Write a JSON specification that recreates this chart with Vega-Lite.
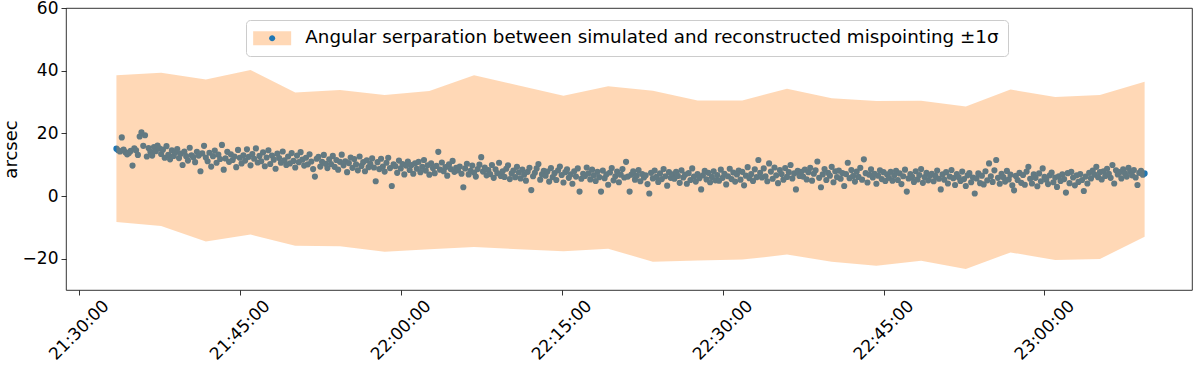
{
"$schema": "https://vega.github.io/schema/vega-lite/v6.json",
"width": 1126, "height": 282,
"autosize": {"type": "none"},
"padding": {"left": 66, "top": 8, "right": 8, "bottom": 77},
"background": "white",
"config": {
  "view": {"stroke": "black", "strokeWidth": 0.8},
  "font": "DejaVu Sans",
  "axis": {"grid": false, "domain": false, "tickColor": "black", "tickWidth": 0.8, "tickSize": 5, "labelColor": "black", "labelFont": "DejaVu Sans", "labelFontSize": 17, "titleFont": "DejaVu Sans", "titleFontSize": 18, "titleFontWeight": "normal", "titleColor": "black"}
},
"datasets": {
"pts": [
{"t":77610000,"v":15.1},{"t":77620000,"v":14.6},{"t":77630000,"v":14.2},{"t":77640000,"v":18.7},{"t":77650000,"v":14.8},{"t":77660000,"v":14.0},{"t":77670000,"v":13.3},{"t":77680000,"v":13.7},{"t":77690000,"v":14.4},{"t":77700000,"v":9.7},{"t":77710000,"v":15.2},{"t":77720000,"v":14.6},{"t":77730000,"v":13.1},{"t":77740000,"v":19.0},{"t":77750000,"v":20.3},{"t":77760000,"v":16.0},{"t":77770000,"v":19.4},{"t":77780000,"v":12.6},{"t":77790000,"v":15.3},{"t":77800000,"v":14.1},{"t":77810000,"v":12.9},{"t":77820000,"v":15.6},{"t":77830000,"v":14.3},{"t":77840000,"v":16.1},
{"t":77850000,"v":15.2},{"t":77860000,"v":13.4},{"t":77870000,"v":14.8},{"t":77880000,"v":12.2},{"t":77890000,"v":15.9},{"t":77900000,"v":13.1},{"t":77910000,"v":11.7},{"t":77920000,"v":14.6},{"t":77930000,"v":12.8},{"t":77940000,"v":13.9},{"t":77950000,"v":15.0},{"t":77960000,"v":12.1},{"t":77970000,"v":13.5},{"t":77980000,"v":9.9},{"t":77990000,"v":14.2},{"t":78000000,"v":12.7},{"t":78010000,"v":11.3},{"t":78020000,"v":15.4},{"t":78030000,"v":13.0},{"t":78040000,"v":12.4},{"t":78050000,"v":10.8},{"t":78060000,"v":14.1},{"t":78070000,"v":12.9},{"t":78080000,"v":7.9},
{"t":78090000,"v":13.6},{"t":78100000,"v":16.0},{"t":78110000,"v":12.3},{"t":78120000,"v":11.1},{"t":78130000,"v":13.8},{"t":78140000,"v":9.4},{"t":78150000,"v":12.7},{"t":78160000,"v":14.5},{"t":78170000,"v":10.6},{"t":78180000,"v":13.2},{"t":78190000,"v":11.8},{"t":78200000,"v":16.3},{"t":78210000,"v":8.4},{"t":78220000,"v":12.0},{"t":78230000,"v":14.1},{"t":78240000,"v":10.9},{"t":78250000,"v":13.3},{"t":78260000,"v":11.5},{"t":78270000,"v":12.6},{"t":78280000,"v":9.2},{"t":78290000,"v":14.7},{"t":78300000,"v":12.2},{"t":78310000,"v":10.4},{"t":78320000,"v":13.0},
{"t":78330000,"v":11.3},{"t":78340000,"v":14.9},{"t":78350000,"v":12.5},{"t":78360000,"v":9.8},{"t":78370000,"v":13.4},{"t":78380000,"v":11.9},{"t":78390000,"v":15.2},{"t":78400000,"v":10.7},{"t":78410000,"v":12.8},{"t":78420000,"v":11.1},{"t":78430000,"v":13.9},{"t":78440000,"v":9.5},{"t":78450000,"v":12.3},{"t":78460000,"v":14.6},{"t":78470000,"v":10.2},{"t":78480000,"v":12.9},{"t":78490000,"v":11.6},{"t":78500000,"v":8.7},{"t":78510000,"v":13.5},{"t":78520000,"v":12.1},{"t":78530000,"v":10.6},{"t":78540000,"v":14.2},{"t":78550000,"v":11.4},{"t":78560000,"v":9.9},
{"t":78570000,"v":12.6},{"t":78580000,"v":10.4},{"t":78590000,"v":13.7},{"t":78600000,"v":11.2},{"t":78610000,"v":9.1},{"t":78620000,"v":12.9},{"t":78630000,"v":10.8},{"t":78640000,"v":14.0},{"t":78650000,"v":11.6},{"t":78660000,"v":9.7},{"t":78670000,"v":12.2},{"t":78680000,"v":10.1},{"t":78690000,"v":13.3},{"t":78700000,"v":11.0},{"t":78710000,"v":8.6},{"t":78720000,"v":6.2},{"t":78730000,"v":11.9},{"t":78740000,"v":12.5},{"t":78750000,"v":9.4},{"t":78760000,"v":10.9},{"t":78770000,"v":13.1},{"t":78780000,"v":10.3},{"t":78790000,"v":8.9},{"t":78800000,"v":11.7},
{"t":78810000,"v":10.2},{"t":78820000,"v":12.8},{"t":78830000,"v":9.3},{"t":78840000,"v":11.5},{"t":78850000,"v":8.4},{"t":78860000,"v":10.9},{"t":78870000,"v":13.2},{"t":78880000,"v":9.8},{"t":78890000,"v":11.1},{"t":78900000,"v":7.6},{"t":78910000,"v":10.5},{"t":78920000,"v":12.3},{"t":78930000,"v":9.0},{"t":78940000,"v":11.8},{"t":78950000,"v":10.1},{"t":78960000,"v":8.2},{"t":78970000,"v":12.6},{"t":78980000,"v":9.6},{"t":78990000,"v":10.8},{"t":79000000,"v":7.9},{"t":79010000,"v":11.4},{"t":79020000,"v":9.2},{"t":79030000,"v":10.3},{"t":79040000,"v":12.0},
{"t":79050000,"v":9.1},{"t":79060000,"v":4.7},{"t":79070000,"v":10.8},{"t":79080000,"v":8.6},{"t":79090000,"v":11.9},{"t":79100000,"v":9.4},{"t":79110000,"v":7.8},{"t":79120000,"v":10.6},{"t":79130000,"v":12.2},{"t":79140000,"v":8.9},{"t":79150000,"v":3.2},{"t":79160000,"v":10.1},{"t":79170000,"v":9.5},{"t":79180000,"v":7.4},{"t":79190000,"v":11.3},{"t":79200000,"v":8.8},{"t":79210000,"v":10.2},{"t":79220000,"v":6.9},{"t":79230000,"v":9.7},{"t":79240000,"v":11.0},{"t":79250000,"v":8.3},{"t":79260000,"v":9.9},{"t":79270000,"v":7.1},{"t":79280000,"v":10.4},
{"t":79290000,"v":8.7},{"t":79300000,"v":10.9},{"t":79310000,"v":7.6},{"t":79320000,"v":9.3},{"t":79330000,"v":11.5},{"t":79340000,"v":8.1},{"t":79350000,"v":9.8},{"t":79360000,"v":6.8},{"t":79370000,"v":10.4},{"t":79380000,"v":8.9},{"t":79390000,"v":7.3},{"t":79400000,"v":9.6},{"t":79410000,"v":14.1},{"t":79420000,"v":8.4},{"t":79430000,"v":10.7},{"t":79440000,"v":7.9},{"t":79450000,"v":9.2},{"t":79460000,"v":6.5},{"t":79470000,"v":10.1},{"t":79480000,"v":8.6},{"t":79490000,"v":11.2},{"t":79500000,"v":7.7},{"t":79510000,"v":9.0},{"t":79520000,"v":8.2},
{"t":79530000,"v":9.4},{"t":79540000,"v":7.1},{"t":79550000,"v":2.8},{"t":79560000,"v":8.8},{"t":79570000,"v":10.3},{"t":79580000,"v":6.9},{"t":79590000,"v":8.0},{"t":79600000,"v":9.7},{"t":79610000,"v":7.5},{"t":79620000,"v":6.2},{"t":79630000,"v":8.6},{"t":79640000,"v":10.0},{"t":79650000,"v":12.4},{"t":79660000,"v":7.8},{"t":79670000,"v":9.1},{"t":79680000,"v":6.6},{"t":79690000,"v":8.3},{"t":79700000,"v":7.0},{"t":79710000,"v":9.9},{"t":79720000,"v":5.8},{"t":79730000,"v":8.5},{"t":79740000,"v":7.3},{"t":79750000,"v":10.6},{"t":79760000,"v":6.4},
{"t":79770000,"v":7.9},{"t":79780000,"v":6.1},{"t":79790000,"v":8.7},{"t":79800000,"v":9.8},{"t":79810000,"v":5.4},{"t":79820000,"v":7.2},{"t":79830000,"v":8.1},{"t":79840000,"v":6.0},{"t":79850000,"v":9.3},{"t":79860000,"v":7.5},{"t":79870000,"v":5.6},{"t":79880000,"v":8.4},{"t":79890000,"v":6.8},{"t":79900000,"v":4.9},{"t":79910000,"v":7.7},{"t":79920000,"v":9.0},{"t":79930000,"v":1.9},{"t":79940000,"v":6.3},{"t":79950000,"v":7.4},{"t":79960000,"v":8.8},{"t":79970000,"v":10.2},{"t":79980000,"v":5.2},{"t":79990000,"v":6.9},{"t":80000000,"v":8.0},
{"t":80010000,"v":6.5},{"t":80020000,"v":7.8},{"t":80030000,"v":4.6},{"t":80040000,"v":8.9},{"t":80050000,"v":6.0},{"t":80060000,"v":7.3},{"t":80070000,"v":5.1},{"t":80080000,"v":8.2},{"t":80090000,"v":9.4},{"t":80100000,"v":6.7},{"t":80110000,"v":4.3},{"t":80120000,"v":7.6},{"t":80130000,"v":8.5},{"t":80140000,"v":5.8},{"t":80150000,"v":6.9},{"t":80160000,"v":3.9},{"t":80170000,"v":7.9},{"t":80180000,"v":6.2},{"t":80190000,"v":8.8},{"t":80200000,"v":1.4},{"t":80210000,"v":5.5},{"t":80220000,"v":7.1},{"t":80230000,"v":6.4},{"t":80240000,"v":9.1},
{"t":80250000,"v":7.2},{"t":80260000,"v":5.3},{"t":80270000,"v":8.4},{"t":80280000,"v":6.6},{"t":80290000,"v":4.8},{"t":80300000,"v":7.7},{"t":80310000,"v":6.0},{"t":80320000,"v":1.4},{"t":80330000,"v":8.1},{"t":80340000,"v":5.7},{"t":80350000,"v":6.9},{"t":80360000,"v":3.6},{"t":80370000,"v":7.5},{"t":80380000,"v":8.9},{"t":80390000,"v":5.0},{"t":80400000,"v":6.3},{"t":80410000,"v":7.8},{"t":80420000,"v":4.4},{"t":80430000,"v":6.8},{"t":80440000,"v":8.6},{"t":80450000,"v":5.9},{"t":80460000,"v":10.9},{"t":80470000,"v":6.2},{"t":80480000,"v":1.4},
{"t":80490000,"v":6.8},{"t":80500000,"v":7.9},{"t":80510000,"v":5.2},{"t":80520000,"v":6.5},{"t":80530000,"v":8.3},{"t":80540000,"v":4.7},{"t":80550000,"v":7.0},{"t":80560000,"v":5.9},{"t":80570000,"v":6.6},{"t":80580000,"v":3.8},{"t":80590000,"v":0.8},{"t":80600000,"v":7.4},{"t":80610000,"v":5.6},{"t":80620000,"v":8.1},{"t":80630000,"v":6.1},{"t":80640000,"v":4.5},{"t":80650000,"v":7.2},{"t":80660000,"v":5.4},{"t":80670000,"v":8.6},{"t":80680000,"v":6.3},{"t":80690000,"v":3.3},{"t":80700000,"v":7.6},{"t":80710000,"v":5.8},{"t":80720000,"v":6.9},
{"t":80730000,"v":5.5},{"t":80740000,"v":7.7},{"t":80750000,"v":6.4},{"t":80760000,"v":4.2},{"t":80770000,"v":8.2},{"t":80780000,"v":5.9},{"t":80790000,"v":6.8},{"t":80800000,"v":3.9},{"t":80810000,"v":7.3},{"t":80820000,"v":5.1},{"t":80830000,"v":8.8},{"t":80840000,"v":6.2},{"t":80850000,"v":4.6},{"t":80860000,"v":7.0},{"t":80870000,"v":5.7},{"t":80880000,"v":2.1},{"t":80890000,"v":6.6},{"t":80900000,"v":8.0},{"t":80910000,"v":5.3},{"t":80920000,"v":7.4},{"t":80930000,"v":4.4},{"t":80940000,"v":6.1},{"t":80950000,"v":7.9},{"t":80960000,"v":5.0},
{"t":80970000,"v":6.7},{"t":80980000,"v":4.9},{"t":80990000,"v":8.4},{"t":81000000,"v":5.8},{"t":81010000,"v":7.1},{"t":81020000,"v":3.7},{"t":81030000,"v":6.3},{"t":81040000,"v":8.7},{"t":81050000,"v":5.4},{"t":81060000,"v":7.5},{"t":81070000,"v":4.6},{"t":81080000,"v":6.9},{"t":81090000,"v":8.1},{"t":81100000,"v":5.2},{"t":81110000,"v":7.7},{"t":81120000,"v":3.4},{"t":81130000,"v":6.5},{"t":81140000,"v":9.2},{"t":81150000,"v":5.7},{"t":81160000,"v":7.0},{"t":81170000,"v":4.8},{"t":81180000,"v":8.5},{"t":81190000,"v":6.0},{"t":81200000,"v":11.5},
{"t":81210000,"v":7.4},{"t":81220000,"v":5.9},{"t":81230000,"v":8.8},{"t":81240000,"v":6.3},{"t":81250000,"v":4.7},{"t":81260000,"v":10.4},{"t":81270000,"v":7.8},{"t":81280000,"v":5.5},{"t":81290000,"v":9.1},{"t":81300000,"v":6.6},{"t":81310000,"v":4.1},{"t":81320000,"v":8.3},{"t":81330000,"v":7.0},{"t":81340000,"v":5.2},{"t":81350000,"v":8.9},{"t":81360000,"v":6.1},{"t":81370000,"v":7.6},{"t":81380000,"v":9.9},{"t":81390000,"v":5.6},{"t":81400000,"v":7.2},{"t":81410000,"v":2.1},{"t":81420000,"v":8.0},{"t":81430000,"v":6.4},{"t":81440000,"v":7.7},
{"t":81450000,"v":6.2},{"t":81460000,"v":8.4},{"t":81470000,"v":5.3},{"t":81480000,"v":7.6},{"t":81490000,"v":9.0},{"t":81500000,"v":4.9},{"t":81510000,"v":7.1},{"t":81520000,"v":8.2},{"t":81530000,"v":11.0},{"t":81540000,"v":5.8},{"t":81550000,"v":2.8},{"t":81560000,"v":6.9},{"t":81570000,"v":8.6},{"t":81580000,"v":5.1},{"t":81590000,"v":7.4},{"t":81600000,"v":6.5},{"t":81610000,"v":9.3},{"t":81620000,"v":4.4},{"t":81630000,"v":7.9},{"t":81640000,"v":6.0},{"t":81650000,"v":8.1},{"t":81660000,"v":5.5},{"t":81670000,"v":7.3},{"t":81680000,"v":3.2},
{"t":81690000,"v":7.0},{"t":81700000,"v":10.6},{"t":81710000,"v":5.7},{"t":81720000,"v":8.3},{"t":81730000,"v":6.4},{"t":81740000,"v":4.6},{"t":81750000,"v":7.8},{"t":81760000,"v":6.1},{"t":81770000,"v":9.0},{"t":81780000,"v":5.2},{"t":81790000,"v":11.7},{"t":81800000,"v":7.3},{"t":81810000,"v":4.3},{"t":81820000,"v":6.8},{"t":81830000,"v":8.5},{"t":81840000,"v":5.9},{"t":81850000,"v":7.1},{"t":81860000,"v":3.9},{"t":81870000,"v":6.5},{"t":81880000,"v":8.2},{"t":81890000,"v":5.4},{"t":81900000,"v":7.6},{"t":81910000,"v":4.8},{"t":81920000,"v":6.9},
{"t":81930000,"v":5.8},{"t":81940000,"v":7.7},{"t":81950000,"v":4.9},{"t":81960000,"v":6.6},{"t":81970000,"v":8.0},{"t":81980000,"v":5.1},{"t":81990000,"v":7.2},{"t":82000000,"v":3.8},{"t":82010000,"v":6.3},{"t":82020000,"v":8.4},{"t":82030000,"v":1.4},{"t":82040000,"v":5.6},{"t":82050000,"v":7.0},{"t":82060000,"v":6.1},{"t":82070000,"v":4.5},{"t":82080000,"v":7.9},{"t":82090000,"v":5.3},{"t":82100000,"v":6.7},{"t":82110000,"v":8.6},{"t":82120000,"v":4.2},{"t":82130000,"v":6.0},{"t":82140000,"v":7.4},{"t":82150000,"v":5.0},{"t":82160000,"v":6.5},
{"t":82170000,"v":7.1},{"t":82180000,"v":4.7},{"t":82190000,"v":6.4},{"t":82200000,"v":8.1},{"t":82210000,"v":5.5},{"t":82220000,"v":2.1},{"t":82230000,"v":6.9},{"t":82240000,"v":5.2},{"t":82250000,"v":7.6},{"t":82260000,"v":4.0},{"t":82270000,"v":6.2},{"t":82280000,"v":8.3},{"t":82290000,"v":5.7},{"t":82300000,"v":3.5},{"t":82310000,"v":7.0},{"t":82320000,"v":6.0},{"t":82330000,"v":4.8},{"t":82340000,"v":7.8},{"t":82350000,"v":5.4},{"t":82360000,"v":3.2},{"t":82370000,"v":6.6},{"t":82380000,"v":7.3},{"t":82390000,"v":4.4},{"t":82400000,"v":5.9},
{"t":82410000,"v":0.8},{"t":82420000,"v":5.6},{"t":82430000,"v":7.2},{"t":82440000,"v":4.1},{"t":82450000,"v":6.5},{"t":82460000,"v":3.7},{"t":82470000,"v":7.9},{"t":82480000,"v":5.0},{"t":82490000,"v":10.4},{"t":82500000,"v":6.3},{"t":82510000,"v":4.5},{"t":82520000,"v":8.2},{"t":82530000,"v":11.5},{"t":82540000,"v":5.8},{"t":82550000,"v":3.9},{"t":82560000,"v":7.1},{"t":82570000,"v":6.0},{"t":82580000,"v":4.6},{"t":82590000,"v":8.0},{"t":82600000,"v":5.3},{"t":82610000,"v":6.8},{"t":82620000,"v":3.4},{"t":82630000,"v":1.8},{"t":82640000,"v":6.4},
{"t":82650000,"v":5.1},{"t":82660000,"v":7.4},{"t":82670000,"v":4.2},{"t":82680000,"v":6.7},{"t":82690000,"v":3.6},{"t":82700000,"v":7.8},{"t":82710000,"v":9.3},{"t":82720000,"v":5.5},{"t":82730000,"v":4.0},{"t":82740000,"v":6.9},{"t":82750000,"v":5.8},{"t":82760000,"v":3.1},{"t":82770000,"v":7.2},{"t":82780000,"v":4.7},{"t":82790000,"v":8.8},{"t":82800000,"v":6.1},{"t":82810000,"v":5.2},{"t":82820000,"v":3.8},{"t":82830000,"v":6.6},{"t":82840000,"v":7.5},{"t":82850000,"v":4.4},{"t":82860000,"v":5.9},{"t":82870000,"v":2.9},{"t":82880000,"v":6.3},
{"t":82890000,"v":4.8},{"t":82900000,"v":6.9},{"t":82910000,"v":5.4},{"t":82920000,"v":1.1},{"t":82930000,"v":7.3},{"t":82940000,"v":4.1},{"t":82950000,"v":7.7},{"t":82960000,"v":5.9},{"t":82970000,"v":3.4},{"t":82980000,"v":6.6},{"t":82990000,"v":4.5},{"t":83000000,"v":7.0},{"t":83010000,"v":5.1},{"t":83020000,"v":1.6},{"t":83030000,"v":6.2},{"t":83040000,"v":4.0},{"t":83050000,"v":7.4},{"t":83060000,"v":5.6},{"t":83070000,"v":8.1},{"t":83080000,"v":6.8},{"t":83090000,"v":9.3},{"t":83100000,"v":6.0},{"t":83110000,"v":7.6},{"t":83120000,"v":5.3},
{"t":83130000,"v":7.9},{"t":83140000,"v":6.4},{"t":83150000,"v":8.7},{"t":83160000,"v":7.1},{"t":83170000,"v":5.8},{"t":83180000,"v":9.9},{"t":83190000,"v":4.0},{"t":83200000,"v":8.2},{"t":83210000,"v":6.9},{"t":83220000,"v":7.6},{"t":83230000,"v":5.6},{"t":83240000,"v":8.5},{"t":83250000,"v":7.3},{"t":83260000,"v":6.2},{"t":83270000,"v":9.0},{"t":83280000,"v":7.8},{"t":83290000,"v":6.6},{"t":83300000,"v":8.3},{"t":83310000,"v":5.9},{"t":83320000,"v":3.5},{"t":83330000,"v":7.4},{"t":83340000,"v":8.0},{"t":83350000,"v":6.8},{"t":83360000,"v":7.2}
],
"band": [
{"t":77610000,"hi":38.5,"lo":-8.3},{"t":77860000,"hi":39.3,"lo":-9.6},{"t":78110000,"hi":37.2,"lo":-14.5},{"t":78360000,"hi":40.2,"lo":-12.3},{"t":78610000,"hi":33.0,"lo":-15.9},{"t":78860000,"hi":33.8,"lo":-16.0},{"t":79110000,"hi":32.2,"lo":-17.8},{"t":79360000,"hi":33.5,"lo":-17.0},{"t":79610000,"hi":38.5,"lo":-16.3},{"t":79860000,"hi":35.3,"lo":-17.0},{"t":80110000,"hi":32.0,"lo":-17.6},{"t":80360000,"hi":35.0,"lo":-16.8},{"t":80610000,"hi":33.6,"lo":-21.0},{"t":80860000,"hi":30.5,"lo":-20.6},{"t":81110000,"hi":30.5,"lo":-20.3},{"t":81360000,"hi":34.2,"lo":-18.7},{"t":81610000,"hi":31.2,"lo":-21.0},{"t":81860000,"hi":30.3,"lo":-22.3},{"t":82110000,"hi":30.4,"lo":-20.7},{"t":82360000,"hi":28.6,"lo":-23.3},{"t":82610000,"hi":34.0,"lo":-18.0},{"t":82860000,"hi":31.6,"lo":-20.4},{"t":83110000,"hi":32.2,"lo":-20.1},{"t":83360000,"hi":36.5,"lo":-13.0}
]
},
"layer": [
  {
    "data": {"name": "pts"},
    "mark": {"type": "point", "filled": true, "size": 38, "opacity": 1, "strokeWidth": 0},
    "encoding": {
      "x": {"field": "t", "type": "temporal",
            "scale": {"type": "utc", "domain": [77328000, 83625000], "nice": false},
            "axis": {"title": null, "values": [77400000, 78300000, 79200000, 80100000, 81000000, 81900000, 82800000],
                     "labelExpr": "utcFormat(datum.value, '%H:%M:%S')", "labelAngle": -45, "labelAlign": "center", "labelBaseline": "middle",
                     "labelPadding": 35, "labelOverlap": false, "labelFlush": false, "labelBound": false}},
      "y": {"field": "v", "type": "quantitative",
            "scale": {"domain": [-30, 60], "nice": false, "zero": false},
            "axis": {"values": [-20, 0, 20, 40, 60], "labelPadding": 3, "title": "arcsec", "titleFontSize": 18, "titleFontWeight": "normal",
                     "titleColor": "black", "titlePadding": 2}},
      "color": {"datum": "pts", "scale": {"range": ["#1f77b4"]},
                "legend": {"title": null, "orient": "none", "legendX": 180, "legendY": 12, "padding": 9,
                           "symbolType": "M1.0,0A0.6,0.6,0,1,1,2.2,0A0.6,0.6,0,1,1,1.0,0Z", "symbolSize": 100, "symbolOpacity": 1, "symbolStrokeWidth": 0,
                           "labelFont": "DejaVu Sans", "labelFontSize": 18.3, "labelExpr": "''", "labelOffset": 32, "labelLimit": 2000, "zindex": 2}}
    }
  },
  {
    "data": {"name": "band"},
    "mark": {"type": "area", "opacity": 0.3},
    "encoding": {
      "x": {"field": "t", "type": "temporal"},
      "y": {"field": "hi", "type": "quantitative"},
      "y2": {"field": "lo"},
      "fill": {"datum": "Angular serparation between simulated and reconstructed mispointing ±1σ\u00a0\u2002", "scale": {"range": ["#ff7f0e"]},
               "legend": {"title": null, "orient": "none", "legendX": 180, "legendY": 12, "padding": 9,
                          "fillColor": "white", "strokeColor": "#cccccc", "cornerRadius": 4,
                          "symbolType": "M-2.2,-1.4H5.4V1.4H-2.2Z", "symbolSize": 100, "symbolOpacity": 0.3, "symbolStrokeWidth": 0,
                          "labelFont": "DejaVu Sans", "labelFontSize": 18.3, "labelColor": "black", "labelOffset": 32, "labelLimit": 2000, "zindex": 1}}
    }
  }
]
}
